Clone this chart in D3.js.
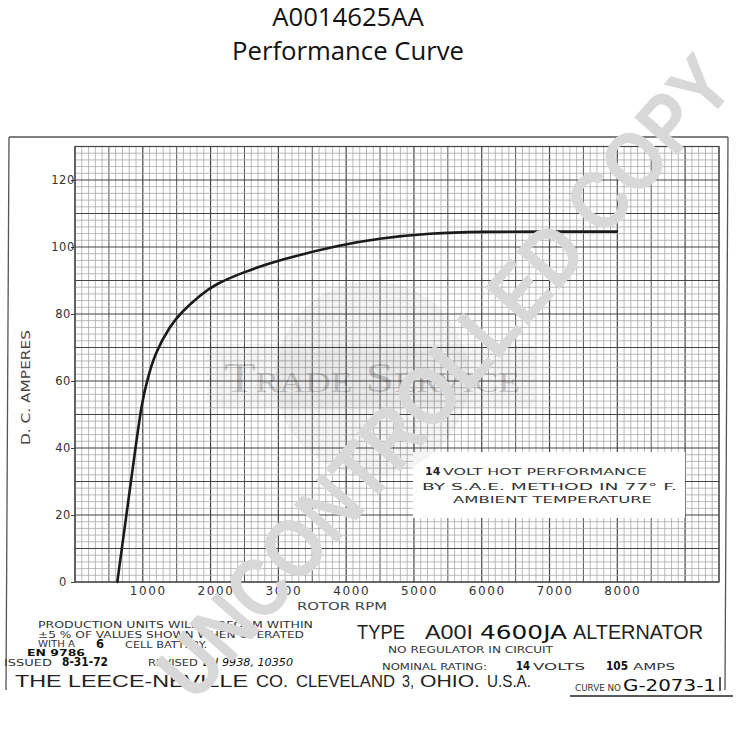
<!DOCTYPE html>
<html><head><meta charset="utf-8">
<script src="https://cdn.jsdelivr.net/npm/d3@7"></script>
<style>body{margin:0;background:#fff} svg{display:block}</style>
</head><body><svg id="c" width="742" height="750"></svg>
<script>
// ---- data ----
const rpm  = [624, 758, 892, 984, 1058, 1180, 1401, 1578, 1844, 2060, 2483, 3024, 3909, 4499, 5237, 5974, 7000, 7995];
const amps = [0, 20, 40, 53.3, 59.8, 68.3, 76.5, 80.7, 85.6, 88.8, 92.5, 96.2, 100.6, 102.6, 104.1, 104.6, 104.6, 104.6];
const xTicks = [1000, 2000, 3000, 4000, 5000, 6000, 7000, 8000];
const yTicks = [0, 20, 40, 60, 80, 100, 120];
const titleLines = ["A0014625AA", "Performance Curve"];
const noteLines = ["VOLT HOT PERFORMANCE", "BY  S.A.E.  METHOD  IN  77° F.", "AMBIENT  TEMPERATURE"];

const svg = d3.select("#c");
const x = d3.scaleLinear([0, 9500], [75, 719]);
const y = d3.scaleLinear([0, 130], [582, 146.5]);
const hand = "DejaVu Sans";

// title
svg.selectAll("text.title").data(titleLines).join("text")
  .attr("x", 348).attr("y", (d, i) => i ? 60 : 26)
  .attr("text-anchor", "middle").attr("font-family", "Open Sans").attr("font-size", 25.7)
  .attr("fill", "#111").text(d => d);

// frame
const frame = svg.append("g").attr("stroke", "#555").attr("stroke-width", 1.3).attr("fill", "none");
frame.append("line").attr("x1", 9).attr("y1", 137).attr("x2", 728).attr("y2", 137);
frame.append("line").attr("x1", 9).attr("y1", 137).attr("x2", 6).attr("y2", 690);
frame.append("line").attr("x1", 728).attr("y1", 137).attr("x2", 725).attr("y2", 690);
frame.append("line").attr("x1", 570).attr("y1", 696).attr("x2", 733).attr("y2", 696).attr("stroke", "#222").attr("stroke-width", 1.6);

// grid
const grid = svg.append("g");
const xs = d3.range(0, 9501, 100), ys = d3.range(0, 131, 2);
function vstyle(v){ return v % 1000 === 0 ? ["#444",1.2] : v % 500 === 0 ? ["#555",1] : ["#a8a8a8",0.8]; }
function hstyle(v){ return v % 10 === 0 ? ["#444",1.1] : ["#a8a8a8",0.8]; }
grid.selectAll("line.v").data(xs).join("line")
  .attr("x1", d => x(d)).attr("x2", d => x(d)).attr("y1", y(0)).attr("y2", y(130))
  .attr("stroke", d => vstyle(d)[0]).attr("stroke-width", d => vstyle(d)[1]);
grid.selectAll("line.h").data(ys).join("line")
  .attr("y1", d => y(d)).attr("y2", d => y(d)).attr("x1", x(0)).attr("x2", x(9500))
  .attr("stroke", d => hstyle(d)[0]).attr("stroke-width", d => hstyle(d)[1]);
grid.append("rect").attr("x", x(0)).attr("y", y(130)).attr("width", x(9500)-x(0)).attr("height", y(0)-y(130))
  .attr("fill", "none").attr("stroke", "#444").attr("stroke-width", 1.2);

// note box
const nb = svg.append("g");
nb.append("rect").attr("x", 413).attr("y", 452).attr("width", 272).attr("height", 66).attr("fill", "#fff");
nb.append("text").attr("x", 425).attr("y", 475).attr("font-family", hand).attr("font-weight", "bold").attr("font-size", 11).attr("fill", "#222").text("14");
nb.append("text").attr("x", 443).attr("y", 475).attr("font-family", hand).attr("font-size", 9.5).attr("fill", "#333")
  .attr("textLength", 204).attr("lengthAdjust", "spacingAndGlyphs").text(noteLines[0]);
nb.append("text").attr("x", 422).attr("y", 490).attr("font-family", hand).attr("font-size", 9.5).attr("fill", "#333")
  .attr("textLength", 255).attr("lengthAdjust", "spacingAndGlyphs").text(noteLines[1]);
nb.append("text").attr("x", 453).attr("y", 503).attr("font-family", hand).attr("font-size", 9.5).attr("fill", "#333")
  .attr("textLength", 199).attr("lengthAdjust", "spacingAndGlyphs").text(noteLines[2]);

// curve
const pts = rpm.map((r, i) => [r, amps[i]]);
svg.append("path").datum(pts)
  .attr("d", d3.line().x(d => x(d[0])).y(d => y(d[1])).curve(d3.curveBasis))
  .attr("fill", "none").attr("stroke", "#1a1a1a").attr("stroke-width", 2.6).attr("stroke-linecap", "round");

// axes
const xa = svg.append("g").attr("transform", `translate(0,${y(0)})`)
  .call(d3.axisBottom(x).tickValues(xTicks).tickSize(0).tickPadding(4).tickFormat(d3.format("d")));
xa.select(".domain").remove();
xa.selectAll("text").attr("font-family", hand).attr("font-size", 12).attr("fill", "#333")
  .attr("dx", 5).attr("letter-spacing", 1.6);
const ya = svg.append("g").attr("transform", `translate(${x(0)},0)`)
  .call(d3.axisLeft(y).tickValues(yTicks).tickSize(4).tickPadding(0).tickFormat(d3.format("d")));
ya.select(".domain").remove();
ya.selectAll("line").attr("stroke", "#444");
ya.selectAll("text").attr("font-family", hand).attr("font-size", 11.5).attr("fill", "#333")
  .attr("text-anchor", "middle").attr("x", -12).attr("letter-spacing", 0.5);

// axis titles
svg.append("text").attr("x", 297).attr("y", 610).attr("font-family", hand).attr("font-size", 11).attr("fill", "#444")
  .attr("textLength", 90).attr("lengthAdjust", "spacingAndGlyphs").text("ROTOR  RPM");
svg.append("text").attr("transform", "translate(30,445) rotate(-90)").attr("font-family", hand).attr("font-size", 11.5).attr("fill", "#444")
  .attr("textLength", 115).attr("lengthAdjust", "spacingAndGlyphs").text("D. C.  AMPERES");

// bottom block
const bt = svg.append("g").attr("fill", "#333");
function t(xp, yp, s, size, len, opts = {}) {
  const e = bt.append("text").attr("x", xp).attr("y", yp).attr("font-family", opts.family || hand)
    .attr("font-size", size).text(s);
  if (len) e.attr("textLength", len).attr("lengthAdjust", "spacingAndGlyphs");
  if (opts.bold) e.attr("font-weight", "bold");
  if (opts.italic) e.attr("font-style", "italic");
  if (opts.fill) e.attr("fill", opts.fill);
  return e;
}
t(38, 628, "PRODUCTION  UNITS  WILL  PERFORM  WITHIN", 9.5, 275);
t(38, 638, "±5 %  OF  VALUES  SHOWN  WHEN  OPERATED", 9.5, 266);
t(38, 647, "WITH  A", 9, 37);
t(96, 648, "6", 11.5, null, {bold: true, fill: "#111"});
t(125, 648, "CELL  BATTERY.", 9.5, 82);
t(27, 656, "EN 9786", 9.5, 58, {bold: true, fill: "#111"});
t(4, 666, "ISSUED", 9.5, 48);
t(62, 666, "8-31-72", 12, 46, {bold: true, fill: "#111"});
t(148, 666, "REVISED", 9.5, 50);
t(203, 666, "EN 9938, 10350", 11, 90, {italic: true, fill: "#111"});
const big = {family: "Liberation Sans", fill: "#222"};
t(15, 687, "THE LEECE-NEVILLE", 17, 233, big);
t(256, 687, "CO.", 17, 32, big);
t(296, 687, "CLEVELAND", 17, 99, big);
t(402, 687, "3,", 17, 12, big);
t(420, 687, "OHIO.", 17, 60, big);
t(487, 687, "U.S.A.", 17, 44, big);

t(357, 638.5, "TYPE", 20, 48, big);
t(425, 638.5, "A00I", 20, 48, big);
t(480, 638.5, "4600JA", 20, 87, {family: hand, fill: "#111"});
t(573, 638.5, "ALTERNATOR", 20, 130, big);
t(388, 652.5, "NO  REGULATOR  IN  CIRCUIT", 9.5, 165);
t(382, 670, "NOMINAL  RATING:", 9.5, 105);
t(516, 670, "14", 12, 14, {bold: true, fill: "#111"});
t(533, 670, "VOLTS", 9.5, 52);
t(606, 670, "105", 12, 22, {bold: true, fill: "#111"});
t(633, 670, "AMPS", 9.5, 42);
t(575, 690.5, "CURVE NO", 8.5, 46);
t(623, 690.5, "G-2073-1", 15, 93, {fill: "#111"});
bt.append("line").attr("x1", 720).attr("x2", 720).attr("y1", 677).attr("y2", 691).attr("stroke", "#222").attr("stroke-width", 1.5);

// watermarks
const wm = svg.append("g");
wm.append("circle").attr("cx", 372).attr("cy", 378).attr("r", 97).attr("fill", "#000").attr("fill-opacity", 0.045);
wm.append("rect").attr("x", 207).attr("y", 344).attr("width", 328).attr("height", 64).attr("rx", 6)
  .attr("fill", "#000").attr("fill-opacity", 0.04);
wm.append("text").attr("x", 372).attr("y", 392).attr("text-anchor", "middle")
  .attr("font-family", "Liberation Serif").attr("font-size", 42).attr("font-variant", "small-caps")
  .attr("fill", "#000").attr("fill-opacity", 0.2).attr("textLength", 296).attr("lengthAdjust", "spacingAndGlyphs")
  .text("Trade Service");
wm.append("text").attr("transform", "translate(195,704) rotate(-48.7)")
  .attr("font-family", "Liberation Sans").attr("font-weight", "bold").attr("font-size", 83)
  .attr("fill", "#d8d8d8").attr("textLength", 821).attr("lengthAdjust", "spacingAndGlyphs")
  .text("UNCONTROLLED COPY");
</script></body></html>
